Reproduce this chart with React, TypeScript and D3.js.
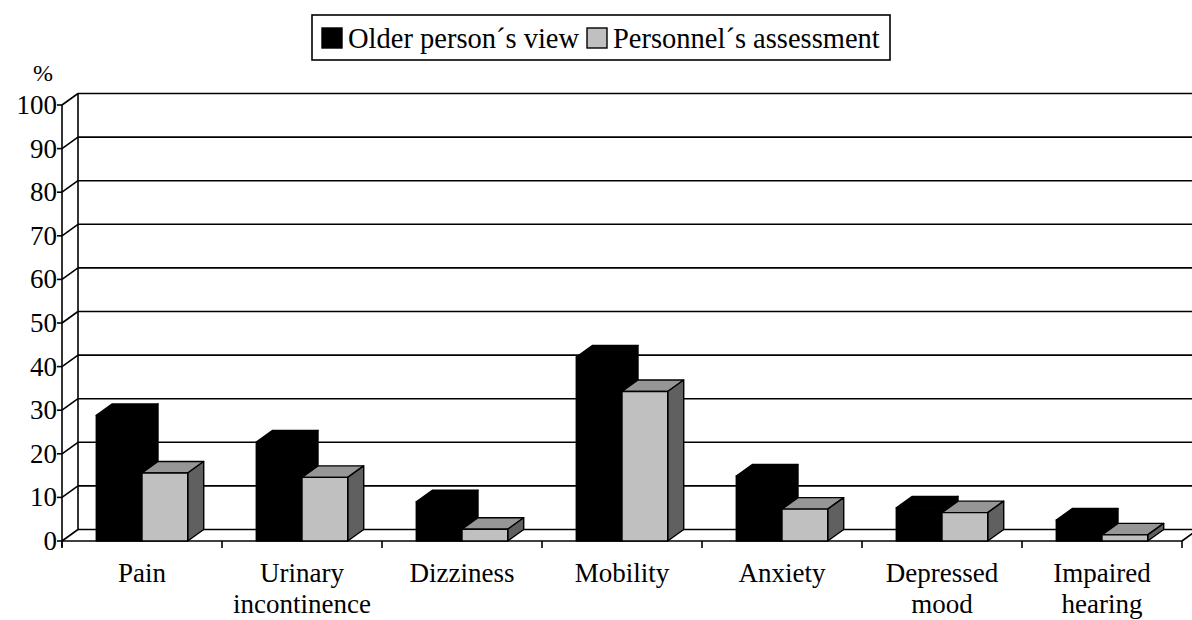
import React from 'react';
import * as d3 from 'd3';

const CATEGORIES = ['Pain', 'Urinary\nincontinence', 'Dizziness', 'Mobility', 'Anxiety', 'Depressed\nmood', 'Impaired\nhearing'];
const SERIES = ['Older person´s view', 'Personnel´s assessment'];
const OLDER = [28.8, 22.7, 9, 42.2, 14.9, 7.6, 4.8];
const PERSONNEL = [15.6, 14.6, 2.7, 34.3, 7.3, 6.5, 1.4];
const Y_TICKS = [0, 10, 20, 30, 40, 50, 60, 70, 80, 90, 100];

const WIDTH = 1192;
const HEIGHT = 620;
const LEFT = 62;
const RIGHT = 1182;
const BASE = 541;
const TOP = 105;
const DX = 16;
const DY = -11.5;
const FONT = 'Liberation Serif';

const FRONT = ['#000000', '#c0c0c0'];
const TOPC = ['#000000', '#969696'];
const SIDE = ['#000000', '#606060'];

export default function App() {
  const y = d3.scaleLinear().domain([0, 100]).range([BASE, TOP]);
  const x = d3.scaleBand().domain(CATEGORIES).range([LEFT, RIGHT]).padding(0);
  const inner = d3.scaleBand().domain(SERIES).range([0, x.bandwidth()]).paddingInner(0).paddingOuter(0.75);
  const values = [OLDER, PERSONNEL];
  const w = inner.bandwidth();
  const line = { stroke: '#000', strokeWidth: 1.6, fill: 'none' };

  const bars = [];
  CATEGORIES.forEach((c, i) => {
    SERIES.forEach((s, k) => {
      const x0 = (x(c) as number) + (inner(s) as number);
      const yt = y(values[k][i]);
      const x1 = x0 + w;
      bars.push(
        <g key={c + s} stroke="#000" strokeWidth={1.4} strokeLinejoin="round">
          <polygon fill={TOPC[k]} points={`${x0},${yt} ${x0 + DX},${yt + DY} ${x1 + DX},${yt + DY} ${x1},${yt}`} />
          <polygon fill={SIDE[k]} points={`${x1},${yt} ${x1 + DX},${yt + DY} ${x1 + DX},${BASE + DY} ${x1},${BASE}`} />
          <rect x={x0} y={yt} width={w} height={BASE - yt} fill={FRONT[k]} />
        </g>
      );
    });
  });

  return (
    <div style={{ position: 'absolute', left: 0, top: 0 }}>
      <svg width={WIDTH} height={HEIGHT} fontFamily={FONT}>
        <rect width={WIDTH} height={HEIGHT} fill="#fff" />
        {/* back wall + grid */}
        {Y_TICKS.map((t) => (
          <g key={t}>
            <line {...line} x1={LEFT + DX} x2={RIGHT + DX + 20} y1={y(t) + DY} y2={y(t) + DY} />
            <line {...line} x1={LEFT} x2={LEFT + DX} y1={y(t)} y2={y(t) + DY} />
            <line {...line} x1={LEFT - 5} x2={LEFT} y1={y(t)} y2={y(t)} />
            <text fontFamily={FONT} x={LEFT - 5} y={y(t) + 9} textAnchor="end" fontSize={27}>{t}</text>
          </g>
        ))}
        <line {...line} x1={LEFT + DX} x2={LEFT + DX} y1={y(100) + DY} y2={BASE + DY} />
        <line {...line} x1={LEFT} x2={LEFT} y1={y(100)} y2={BASE + 6} />
        {/* floor */}
        <line {...line} x1={LEFT} x2={RIGHT} y1={BASE} y2={BASE} />
        <line {...line} x1={RIGHT} x2={RIGHT + DX} y1={BASE} y2={BASE + DY} />
        {d3.range(CATEGORIES.length + 1).map((j) => {
          const xt = LEFT + j * x.step();
          return <line key={j} {...line} x1={xt} x2={xt} y1={BASE} y2={BASE + 7} />;
        })}
        {bars}
        <text fontFamily={FONT} x={43} y={81} textAnchor="middle" fontSize={24}>%</text>
        {CATEGORIES.map((c) => {
          const cx = (x(c) as number) + x.bandwidth() / 2;
          return (
            <text key={c} fontFamily={FONT} x={cx} y={582} textAnchor="middle" fontSize={27}>
              {c.split('\n').map((l, j) => (
                <tspan key={j} x={cx} dy={j === 0 ? 0 : 31}>{l}</tspan>
              ))}
            </text>
          );
        })}
        {/* legend */}
        <rect x={312} y={15} width={578} height={45} fill="#fff" stroke="#000" strokeWidth={1.6} />
        <rect x={322} y={28} width={20} height={20} fill={FRONT[0]} stroke="#000" strokeWidth={1.4} />
        <text fontFamily={FONT} x={348} y={48} fontSize={28.5}>{SERIES[0]}</text>
        <rect x={587} y={28} width={20} height={20} fill={FRONT[1]} stroke="#000" strokeWidth={1.4} />
        <text fontFamily={FONT} x={613} y={48} fontSize={28.5}>{SERIES[1]}</text>
      </svg>
    </div>
  );
}
